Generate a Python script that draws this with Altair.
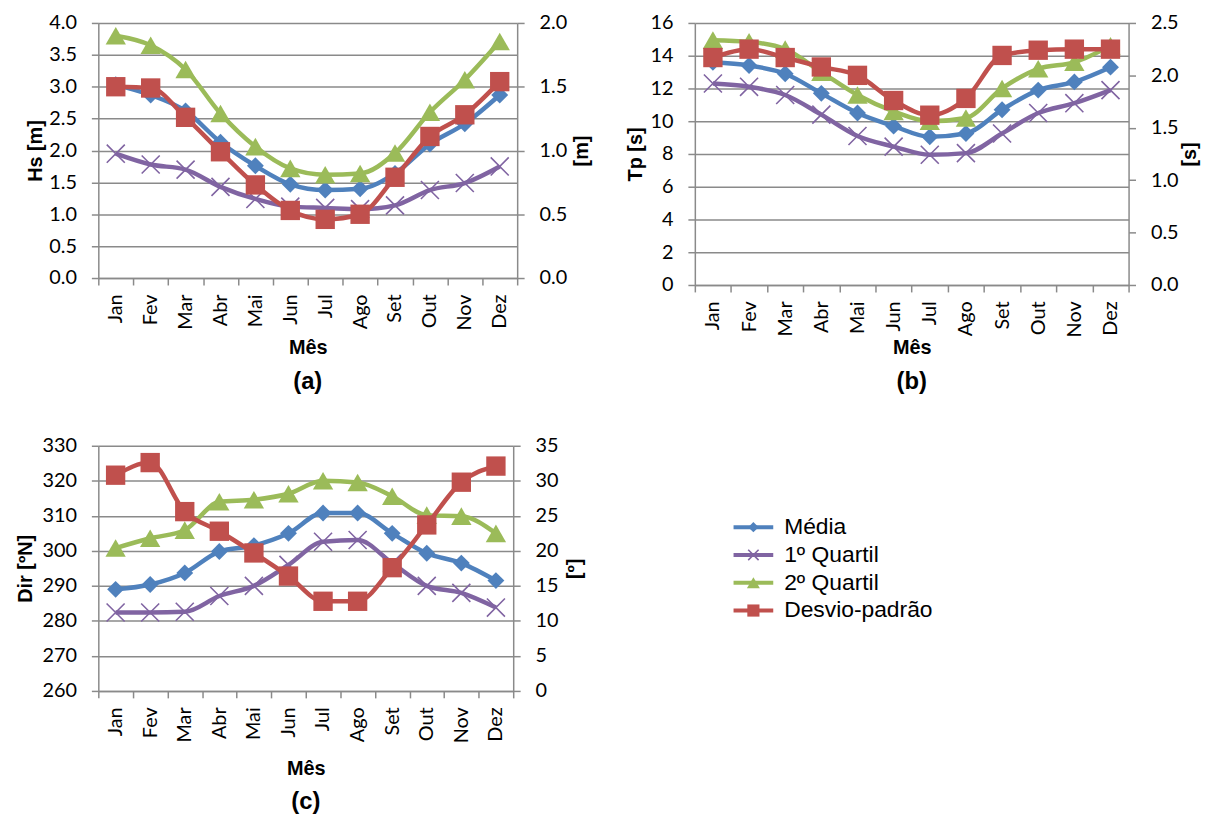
import altair as alt
import pandas as pd

months = ["Jan", "Fev", "Mar", "Abr", "Mai", "Jun", "Jul", "Ago", "Set", "Out", "Nov", "Dez"]
series_names = ["Média", "1º Quartil", "2º Quartil", "Desvio-padrão"]
series_colors = ["#4F81BD", "#8064A2", "#9BBB59", "#C0504D"]

# Panel (a) Hs [m]
hs_media = [3.03, 2.87, 2.62, 2.13, 1.76, 1.47, 1.38, 1.40, 1.64, 2.10, 2.42, 2.87]
hs_q1 = [1.95, 1.78, 1.70, 1.43, 1.24, 1.12, 1.10, 1.08, 1.14, 1.38, 1.49, 1.75]
hs_q2 = [3.80, 3.65, 3.27, 2.58, 2.06, 1.72, 1.62, 1.64, 1.96, 2.60, 3.11, 3.71]
hs_std = [1.50, 1.49, 1.26, 0.99, 0.73, 0.53, 0.46, 0.50, 0.79, 1.11, 1.28, 1.54]
hs_left_ticks = [0.0, 0.5, 1.0, 1.5, 2.0, 2.5, 3.0, 3.5, 4.0]
hs_right_ticks = [0.0, 0.5, 1.0, 1.5, 2.0]

# Panel (b) Tp [s]
tp_media = [13.6, 13.4, 12.9, 11.7, 10.5, 9.7, 9.05, 9.25, 10.7, 11.9, 12.4, 13.3]
tp_q1 = [12.3, 12.1, 11.6, 10.4, 9.1, 8.45, 7.95, 8.05, 9.25, 10.5, 11.1, 11.9]
tp_q2 = [14.95, 14.85, 14.4, 13.0, 11.6, 10.6, 10.0, 10.2, 12.0, 13.2, 13.6, 14.6]
tp_std = [2.17, 2.25, 2.17, 2.08, 2.00, 1.76, 1.62, 1.78, 2.19, 2.24, 2.25, 2.25]
tp_left_ticks = [0, 2, 4, 6, 8, 10, 12, 14, 16]
tp_right_ticks = [0.0, 0.5, 1.0, 1.5, 2.0, 2.5]

# Panel (c) Dir [ºN]
dir_media = [289.0, 290.4, 293.7, 299.8, 301.5, 305.0, 310.8, 310.8, 305.0, 299.3, 296.5, 291.5]
dir_q1 = [282.4, 282.4, 282.6, 287.1, 290.0, 296.0, 302.6, 303.1, 296.5, 290.0, 288.0, 283.8]
dir_q2 = [300.8, 303.6, 305.9, 314.0, 314.6, 316.3, 320.0, 319.5, 315.6, 310.2, 309.9, 305.0]
dir_std = [30.8, 32.6, 25.6, 22.8, 19.7, 16.4, 12.8, 12.8, 17.6, 23.7, 29.8, 32.1]
dir_left_ticks = [260, 270, 280, 290, 300, 310, 320, 330]
dir_right_ticks = [0, 5, 10, 15, 20, 25, 30, 35]

GRAY = "#8a8a8a"
LABEL_FONT = "Lato"
TITLE_FONT = "Liberation Sans"
X_SHAPE = "M-1,-1L1,1M-1,1L1,-1"

marker_style = {
    "Média": dict(shape="diamond", filled=True, size=290),
    "1º Quartil": dict(shape=X_SHAPE, filled=False, size=330, strokeWidth=1.6),
    "2º Quartil": dict(shape="triangle-up", filled=True, size=420),
    "Desvio-padrão": dict(shape="square", filled=True, size=380),
}
legend_marker_size = {"Média": 110, "1º Quartil": 110, "2º Quartil": 170, "Desvio-padrão": 150}
color_of = dict(zip(series_names, series_colors))


def x_enc(title_pad):
    return alt.X(
        "mes:N",
        sort=months,
        bandPosition=0.5,
        scale=alt.Scale(type="band", domain=months, paddingInner=0, paddingOuter=0),
        axis=alt.Axis(
            title="Mês",
            tickBand="extent",
            labelAngle=270,
            labelPadding=9,
            titlePadding=title_pad,
            grid=False,
        ),
    )


def y_left(domain, ticks, fmt, title, title_pad):
    return alt.Y(
        "v:Q",
        scale=alt.Scale(domain=domain, nice=False, zero=False),
        axis=alt.Axis(
            orient="left",
            values=ticks,
            format=fmt,
            title=title,
            grid=True,
            titlePadding=title_pad,
        ),
    )


def y_right(domain, ticks, fmt, title, title_pad):
    return alt.Y(
        "v:Q",
        scale=alt.Scale(domain=domain, nice=False, zero=False),
        axis=alt.Axis(
            orient="right",
            values=ticks,
            format=fmt,
            title=title,
            grid=False,
            titleAngle=270,
            titleBaseline="top",
            titlePadding=title_pad,
        ),
    )


def series_layers(vals, name, xe, ye):
    df = pd.DataFrame({"mes": months, "v": vals, "serie": name})
    base = alt.Chart(df)
    line = base.mark_line(
        color=color_of[name], strokeWidth=4.5, interpolate="monotone"
    ).encode(x=xe, y=ye)
    pts = base.mark_point(
        color=color_of[name], opacity=1, **marker_style[name]
    ).encode(x=xe, y=ye)
    return [line, pts]


def panel(vals, ldom, lticks, lfmt, ltitle, ltp, rdom, rticks, rfmt, rtitle, rtp,
          xtp, letter, w, h):
    xe = x_enc(xtp)
    yl = y_left(ldom, lticks, lfmt, ltitle, ltp)
    yr = y_right(rdom, rticks, rfmt, rtitle, rtp)
    left_layers = []
    for name, v in zip(series_names[:3], vals[:3]):
        left_layers += series_layers(v, name, xe, yl)
    right_layers = series_layers(vals[3], series_names[3], xe, yr)
    return (
        alt.layer(alt.layer(*left_layers), alt.layer(*right_layers))
        .resolve_scale(y="independent")
        .properties(
            width=w,
            height=h,
            title=alt.TitleParams(
                letter, orient="bottom", anchor="middle", frame="group",
                font=TITLE_FONT, fontSize=24, fontWeight="bold", color="black",
                offset=12,
            ),
        )
    )


pa = panel([hs_media, hs_q1, hs_q2, hs_std], [0, 4], hs_left_ticks, ".1f", "Hs [m]", 3,
           [0, 2], hs_right_ticks, ".1f", "[m]", 5, 8, "(a)", 422, 257)
pb = panel([tp_media, tp_q1, tp_q2, tp_std], [0, 16], tp_left_ticks, "d", "Tp [s]", 5,
           [0, 2.5], tp_right_ticks, ".1f", "[s]", 2, 1, "(b)", 437, 264)
pc = panel([dir_media, dir_q1, dir_q2, dir_std], [260, 330], dir_left_ticks, "d", "Dir [ºN]", 7,
           [0, 35], dir_right_ticks, "d", "[º]", 7, 16, "(c)", 418, 247)

# Legend panel
leg_df = pd.DataFrame({"serie": series_names})
ly = alt.Y(
    "serie:N",
    sort=series_names,
    scale=alt.Scale(type="point", domain=series_names, range=[82, 166], padding=0),
    axis=None,
)
leg_layers = []
for name in series_names:
    b = alt.Chart(leg_df).transform_filter(alt.datum.serie == name)
    leg_layers.append(
        b.mark_rule(color=color_of[name], strokeWidth=4).encode(
            y=ly, x=alt.value(39), x2=alt.value(79)
        )
    )
    st = dict(marker_style[name])
    st["size"] = legend_marker_size[name]
    leg_layers.append(
        b.mark_point(color=color_of[name], opacity=1, **st).encode(y=ly, x=alt.value(59))
    )
leg_layers.append(
    alt.Chart(leg_df)
    .mark_text(align="left", baseline="middle", font=TITLE_FONT, fontSize=23, color="black")
    .encode(y=ly, x=alt.value(90), text="serie:N")
)
leg = alt.layer(*leg_layers).properties(width=300, height=247)

chart = (
    alt.concat(
        pa, pb, pc, leg,
        columns=2,
        spacing={"row": 162, "column": 179},
        bounds="flush",
        align="each",
    )
    .properties(padding={"left": 7, "top": 2, "right": 5, "bottom": 5})
    .configure_view(stroke=None)
    .configure_axis(
        domainColor=GRAY,
        tickColor=GRAY,
        gridColor=GRAY,
        domainWidth=1.5,
        tickWidth=1.5,
        gridWidth=1.5,
        tickSize=7,
        labelPadding=15,
        labelFont=LABEL_FONT,
        labelFontSize=20,
        labelColor="black",
        titleFont=TITLE_FONT,
        titleFontSize=20,
        titleFontWeight="bold",
        titleColor="black",
    )
)

chart.save("out.html", embed_options={"renderer": "svg", "actions": False})
